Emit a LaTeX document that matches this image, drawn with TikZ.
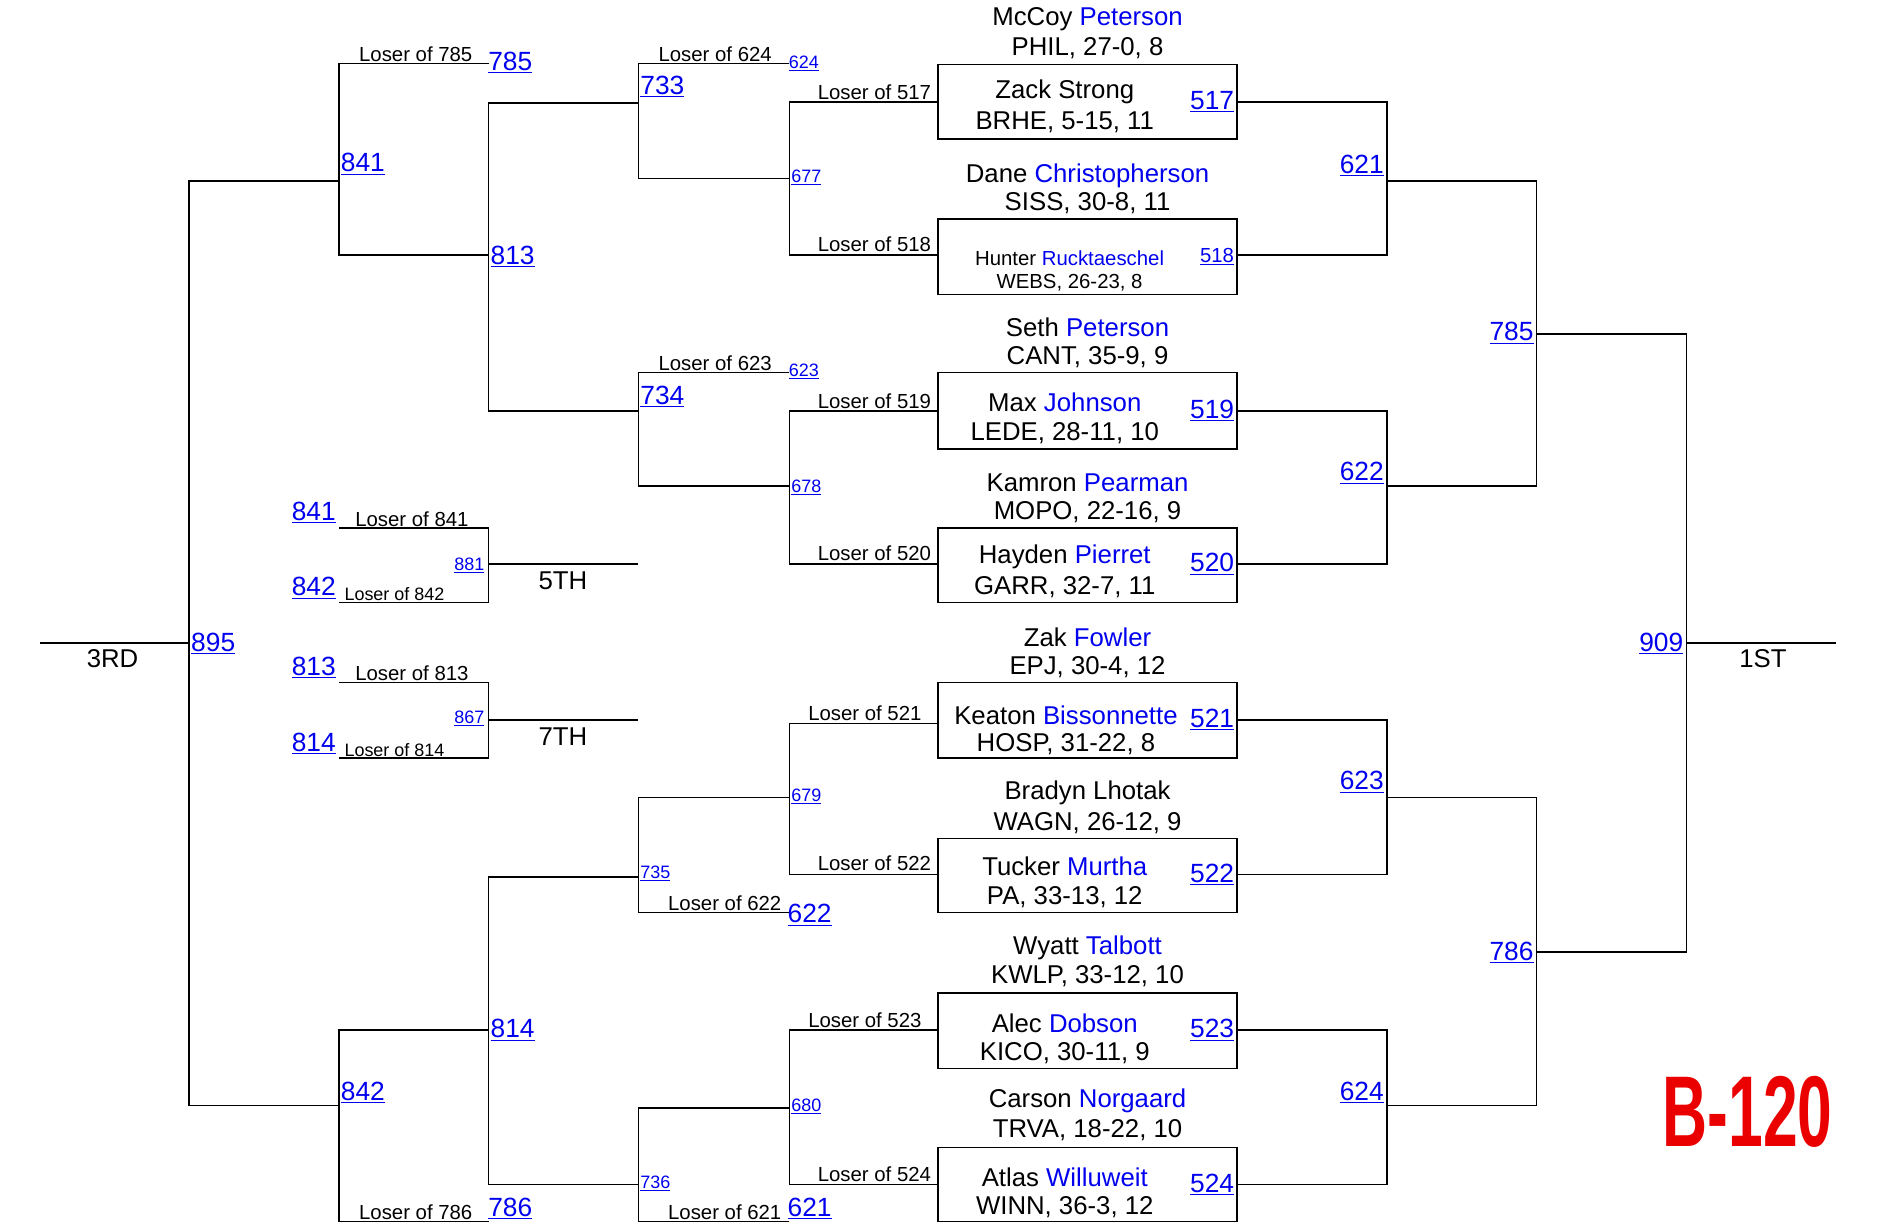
\documentclass[tikz,border=0pt]{standalone}
\usepackage{fontspec}
\setmainfont{Liberation Sans}
\definecolor{lnk}{RGB}{0,0,238}
\definecolor{bred}{RGB}{235,0,0}
\newcommand\lk[1]{\textcolor{lnk}{\underline{#1}}}
\newcommand\bl[1]{\textcolor{lnk}{#1}}
\begin{document}
\begin{tikzpicture}[x=1pt,y=-1pt,line width=1.3pt,
  nm/.style={font=\fontsize{21.5}{23}\selectfont,inner sep=0pt},
  sm/.style={font=\fontsize{17}{19}\selectfont,inner sep=0pt},
  lb/.style={font=\fontsize{22}{24}\selectfont,inner sep=0pt},
  tl/.style={font=\fontsize{15}{16}\selectfont,inner sep=0pt},
  bx/.style={draw,line width=1.3pt}]
\useasboundingbox (0,0) rectangle (1568,1022);
% boxes
\foreach \t/\b in {54/116,183/246,311/375,441/503,570/633,700/762,829/892,958/1020}
  \draw[bx] (783,\t) rectangle (1033,\b);
% names above boxes and inside
\node[nm] at (908,16) {McCoy \bl{Peterson}};
\node[nm] at (908,40) {PHIL, 27-0, 8};
\node[nm] at (889,77) {Zack Strong};
\node[nm] at (889,102) {BRHE, 5-15, 11};
\node[nm] at (908,147) {Dane \bl{Christopherson}};
\node[nm] at (908,170) {SISS, 30-8, 11};
\node[sm] at (893,216) {Hunter \bl{Rucktaeschel}};
\node[sm] at (893,236) {WEBS, 26-23, 8};
\node[nm] at (908,273) {Seth \bl{Peterson}};
\node[nm] at (908,298) {CANT, 35-9, 9};
\node[nm] at (889,336) {Max \bl{Johnson}};
\node[nm] at (889,362) {LEDE, 28-11, 10};
\node[nm] at (908,403) {Kamron \bl{Pearman}};
\node[nm] at (908,428) {MOPO, 22-16, 9};
\node[nm] at (889,465) {Hayden \bl{Pierret}};
\node[nm] at (889,490) {GARR, 32-7, 11};
\node[nm] at (908,532) {Zak \bl{Fowler}};
\node[nm] at (908,557) {EPJ, 30-4, 12};
\node[nm] at (890,597) {Keaton \bl{Bissonnette}};
\node[nm] at (890,621) {HOSP, 31-22, 8};
\node[nm] at (908,662) {Bradyn Lhotak};
\node[nm] at (908,687) {WAGN, 26-12, 9};
\node[nm] at (889,723) {Tucker \bl{Murtha}};
\node[nm] at (889,749) {PA, 33-13, 12};
\node[nm] at (908,791) {Wyatt \bl{Talbott}};
\node[nm] at (908,815) {KWLP, 33-12, 10};
\node[nm] at (889,854) {Alec \bl{Dobson}};
\node[nm] at (889,879) {KICO, 30-11, 9};
\node[nm] at (908,919) {Carson \bl{Norgaard}};
\node[nm] at (908,944) {TRVA, 18-22, 10};
\node[nm] at (889,983) {Atlas \bl{Willuweit}};
\node[nm] at (889,1008) {WINN, 36-3, 12};
% box links
\foreach \n/\y in {517/85,519/343,520/471,521/601,522/730,523/860,524/989}
  \node[lb,anchor=east] at (1031,\y) {\lk{\n}};
\node[sm,anchor=east] at (1031,214) {\lk{518}};
% winner bracket
\draw (1033,85)--(1158,85)--(1158,213)--(1033,213);
\draw (1033,343)--(1158,343)--(1158,471)--(1033,471);
\draw (1033,601)--(1158,601)--(1158,730)--(1033,730);
\draw (1033,860)--(1158,860)--(1158,989)--(1033,989);
\draw (1158,151)--(1283,151)--(1283,406)--(1158,406);
\draw (1158,666)--(1283,666)--(1283,923)--(1158,923);
\draw (1283,279)--(1408,279)--(1408,795)--(1283,795);
\draw (1408,537)--(1533,537);
\foreach \n/\x/\y in {621/1137/138,622/1137/395,623/1137/653,624/1137/912,785/1262/278,786/1262/795,909/1387/537}
  \node[lb] at (\x,\y) {\lk{\n}};
\node[nm] at (1472,550) {1ST};
% consolation: loser lines into boxes
\draw (783,85)--(659,85)--(659,213)--(783,213);
\draw (783,343)--(659,343)--(659,471)--(783,471);
\draw (783,604)--(659,604)--(659,730)--(783,730);
\draw (783,860)--(659,860)--(659,989)--(783,989);
\node[sm,anchor=south east] at (778,84) {Loser of 517};
\node[sm,anchor=south east] at (778,211) {Loser of 518};
\node[sm,anchor=south east] at (778,342) {Loser of 519};
\node[sm,anchor=south east] at (778,469) {Loser of 520};
\node[sm,anchor=south east] at (770,602) {Loser of 521};
\node[sm,anchor=south east] at (778,728) {Loser of 522};
\node[sm,anchor=south east] at (770,859) {Loser of 523};
\node[sm,anchor=south east] at (778,987) {Loser of 524};
\foreach \n/\y in {677/148,678/407,679/665,680/924}
  \node[tl,anchor=west] at (660,\y) {\lk{\n}};
% 733,734
\draw (659,53)--(533,53)--(533,149)--(659,149);
\draw (659,311)--(533,311)--(533,406)--(659,406);
\draw (533,86)--(408,86)--(408,343)--(533,343);
\node[sm,anchor=south east] at (645,52) {Loser of 624};
\node[sm,anchor=south east] at (645,310) {Loser of 623};
\node[tl,anchor=west] at (658,53) {\lk{624}};
\node[tl,anchor=west] at (658,310) {\lk{623}};
\node[lb,anchor=west] at (534,72) {\lk{733}};
\node[lb,anchor=west] at (534,331) {\lk{734}};
% 735,736
\draw (659,666)--(533,666)--(533,762)--(659,762);
\draw (659,925)--(533,925)--(533,1020)--(659,1020);
\draw (533,732)--(408,732)--(408,989)--(533,989);
\node[sm,anchor=south east] at (653,761) {Loser of 622};
\node[sm,anchor=south east] at (653,1019) {Loser of 621};
\node[lb,anchor=west] at (657,764) {\lk{622}};
\node[lb,anchor=west] at (657,1009) {\lk{621}};
\node[tl,anchor=west] at (534,729) {\lk{735}};
\node[tl,anchor=west] at (534,988) {\lk{736}};
% 841, 842
\draw (408,53)--(283,53)--(283,213)--(408,213);
\draw (408,860)--(283,860)--(283,1020)--(408,1020);
\draw (283,151)--(158,151)--(158,923)--(283,923);
\draw (158,537)--(33,537);
\node[sm,anchor=south east] at (395,52) {Loser of 785};
\node[lb,anchor=west] at (407,52) {\lk{785}};
\node[sm,anchor=south east] at (395,1019) {Loser of 786};
\node[lb,anchor=west] at (407,1009) {\lk{786}};
\node[lb,anchor=west] at (409,214) {\lk{813}};
\node[lb,anchor=west] at (409,860) {\lk{814}};
\node[lb,anchor=west] at (284,137) {\lk{841}};
\node[lb,anchor=west] at (284,912) {\lk{842}};
\node[lb,anchor=west] at (159,537) {\lk{895}};
\node[nm] at (94,550) {3RD};
% 5th and 7th
\draw (283,441)--(408,441)--(408,503)--(283,503);
\draw (408,471)--(533,471);
\draw (283,570)--(408,570)--(408,633)--(283,633);
\draw (408,601)--(533,601);
\node[sm,anchor=south west] at (296,440) {Loser of 841};
\node[tl,anchor=south west] at (287,502) {Loser of 842};
\node[sm,anchor=south west] at (296,569) {Loser of 813};
\node[tl,anchor=south west] at (287,632) {Loser of 814};
\node[lb] at (262,428) {\lk{841}};
\node[lb] at (262,491) {\lk{842}};
\node[lb] at (262,557) {\lk{813}};
\node[lb] at (262,621) {\lk{814}};
\node[tl,anchor=east] at (405,472) {\lk{881}};
\node[tl,anchor=east] at (405,600) {\lk{867}};
\node[nm] at (470,485) {5TH};
\node[nm] at (470,615) {7TH};
\node[font=\bfseries\fontsize{84}{84}\selectfont,text=bred,xscale=0.62,inner sep=0pt] at (1459,928) {B-120};
\end{tikzpicture}
\end{document}
